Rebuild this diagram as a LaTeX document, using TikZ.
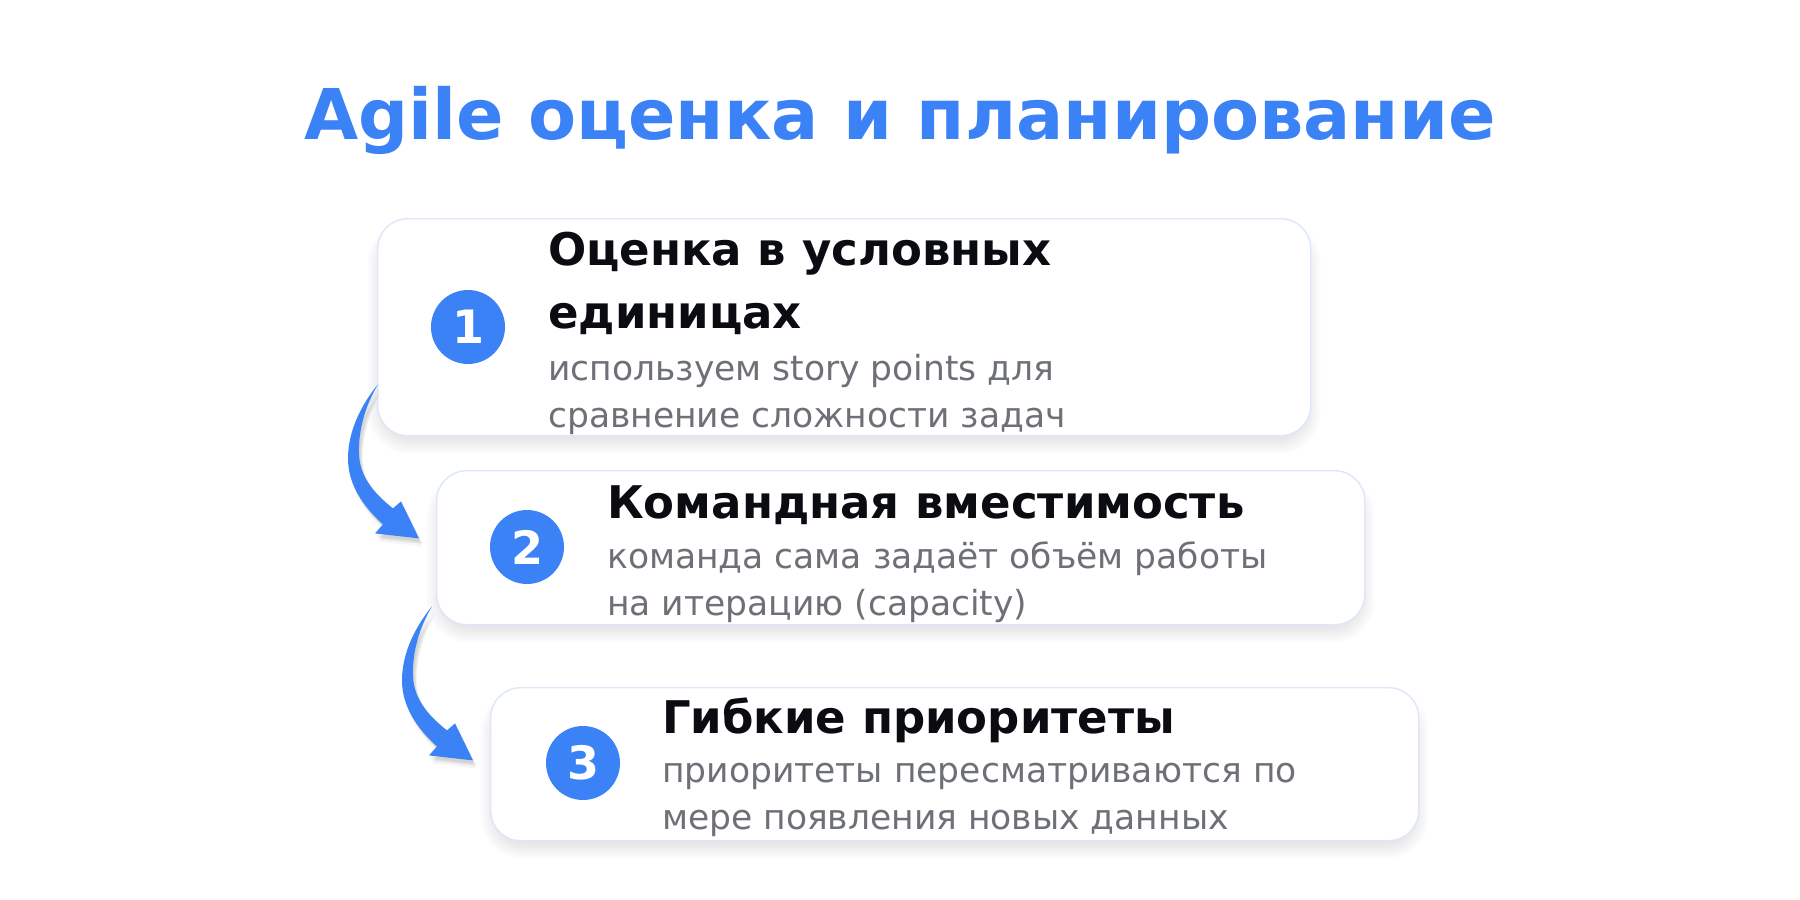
\documentclass[tikz,border=0pt]{standalone}
\usepackage{fontspec}
\setmainfont{DejaVu Sans}
\usetikzlibrary{calc,backgrounds}
\definecolor{blueA}{HTML}{3B82F6}
\definecolor{ink}{HTML}{0A0C12}
\definecolor{greyT}{HTML}{6E7077}
\definecolor{edgeC}{HTML}{DCE7FA}
\newcommand\cardshadow[1]{%
  \foreach \k in {1,...,12}{%
    \pgfmathsetmacro\rr{30+\k}%
    \pgfmathsetmacro\dd{\k*1.3-6}%
    \fill[black, opacity=0.006, rounded corners=\rr pt]
      ($(#1.north west)+(-\dd,-\dd+12)$) rectangle ($(#1.south east)+(\dd,\dd+8)$);
  }}
\begin{document}
\begin{tikzpicture}[x=1pt,y=-1pt,
  card/.style={draw=edgeC, line width=1.4pt, fill=white, rounded corners=30pt,
    anchor=north west, inner sep=0pt},
  num/.style={circle, fill=blueA, text=white, minimum size=74pt, inner sep=0pt,
    font=\fontsize{46}{46}\selectfont\bfseries},
  head/.style={anchor=base west, inner sep=0pt, text=ink, font=\fontsize{45}{50}\selectfont\bfseries},
  sub/.style={anchor=base west, inner sep=0pt, text=greyT, font=\fontsize{34.5}{40}\selectfont},
  pics/bendarrow/.style={code={
    \fill[#1] (0,0) .. controls (-12,20) and (-20,45) .. (-19,70)
      .. controls (-18,95) and (0,112) .. (15,124) -- (23,117) -- (41,154) -- (-3,149) -- (5,140)
      .. controls (-15,122) and (-30,100) .. (-30,74) .. controls (-30,45) and (-15,18) .. (0,0) -- cycle;}}
]
\useasboundingbox (0,0) rectangle (1800,900);

\node[anchor=base, inner sep=0pt, text=blueA, font=\fontsize{70}{80}\selectfont\bfseries] (title) at (900,139) {Agile оценка и планирование};

\node[card, minimum width=933pt, minimum height=217pt] (c1) at (377,218) {};
\node[card, minimum width=928pt, minimum height=154pt] (c2) at (436,470) {};
\node[card, minimum width=928pt, minimum height=153pt] (c3) at (490,687) {};

\begin{scope}[on background layer]
  \fill[white] (0,0) rectangle (1800,900);
  \cardshadow{c1}
  \cardshadow{c2}
  \cardshadow{c3}
\end{scope}

\node[num] (n1) at (468,327) {1};
\node[num] (n2) at (527,547) {2};
\node[num] (n3) at (583,763) {3};

\node[head] (t1a) at (548,265) {Оценка в условных};
\node[head] (t1b) at (548,328) {единицах};
\node[sub] (s1a) at (548,380) {используем story points для};
\node[sub] (s1b) at (548,427) {сравнение сложности задач};

\node[head] (t2) at (607,518) {Командная вместимость};
\node[sub] (s2a) at (607,568) {команда сама задаёт объём работы};
\node[sub] (s2b) at (607,615) {на итерацию (capacity)};

\node[head] (t3) at (662,733) {Гибкие приоритеты};
\node[sub] (s3a) at (662,782) {приоритеты пересматриваются по};
\node[sub] (s3b) at (662,829) {мере появления новых данных};

\coordinate (a1) at ($(c1.south west)+(1,-52)$);
\coordinate (a2) at ($(c2.south west)+(-4,-19)$);

\foreach \a in {a1,a2}{
  \foreach \sx/\sy in {1/3,2/4,3/5,4/6,3/8}{
    \path (\a) pic {bendarrow={black, opacity=0.035, shift={(\sx,\sy)}}};
  }
  \path (\a) pic {bendarrow={blueA}};
}
\end{tikzpicture}
\end{document}
